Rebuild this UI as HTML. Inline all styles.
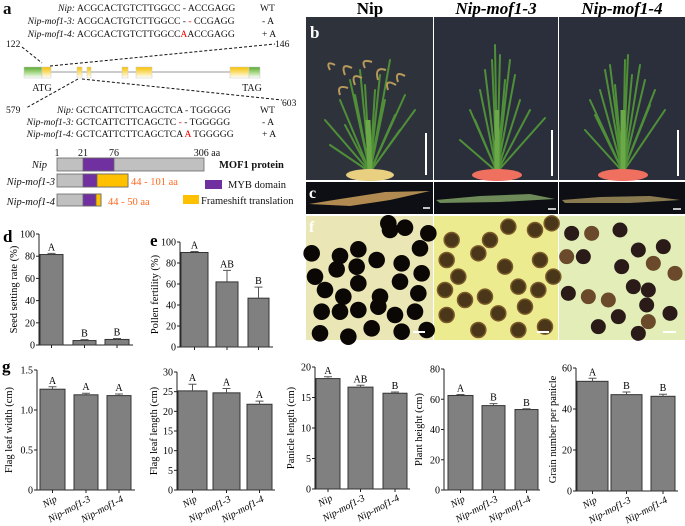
<!DOCTYPE html>
<html><head><meta charset="utf-8"><style>
html,body{margin:0;padding:0;background:#fff;}
svg{display:block;font-family:"Liberation Serif",serif;}
</style></head><body>
<svg id="fig" width="685" height="526" viewBox="0 0 685 526">
<g font-size="9.6" fill="#111">
<text x="3" y="14" font-size="17" font-weight="bold">a</text>
<text x="75" y="11" text-anchor="end" font-style="italic">Nip:</text>
<text x="77" y="11">ACGCACTGTCTTGGCC - ACCGAGG</text>
<text x="260" y="11">WT</text>
<text x="75" y="24" text-anchor="end" font-style="italic">Nip-mof1-3:</text>
<text x="77" y="24">ACGCACTGTCTTGGCC - <tspan fill="#e00">-</tspan> CCGAGG</text>
<text x="262" y="24">- A</text>
<text x="75" y="37" text-anchor="end" font-style="italic">Nip-mof1-4:</text>
<text x="77" y="37">ACGCACTGTCTTGGCC<tspan fill="#e00">A</tspan>ACCGAGG</text>
<text x="262" y="37">+ A</text>
<text x="6" y="47">122</text>
<text x="275" y="47">146</text>
<g stroke="#111" stroke-dasharray="3,2" fill="none" stroke-width="1">
<line x1="22" y1="47" x2="42" y2="63"/><line x1="50" y1="66" x2="275" y2="44"/>
<line x1="78" y1="79" x2="26" y2="108"/><line x1="82" y1="79" x2="282" y2="100"/>
</g>
<defs>
<linearGradient id="yg" x1="0" y1="0" x2="0" y2="1"><stop offset="0" stop-color="#f5c000"/><stop offset="0.5" stop-color="#fbe07a"/><stop offset="1" stop-color="#fff"/></linearGradient>
<linearGradient id="gg" x1="0" y1="0" x2="0" y2="1"><stop offset="0" stop-color="#5aa832"/><stop offset="0.5" stop-color="#a8d888"/><stop offset="1" stop-color="#fff"/></linearGradient>
</defs>
<line x1="24" y1="72" x2="260" y2="72" stroke="#bbb" stroke-width="1.5"/>
<g stroke="#ccc" stroke-width="0.5">
<rect x="24" y="67" width="18" height="11" fill="url(#gg)"/>
<rect x="42" y="67" width="9" height="11" fill="url(#yg)"/>
<rect x="77" y="67" width="5" height="11" fill="url(#yg)"/>
<rect x="87" y="67" width="4" height="11" fill="url(#yg)"/>
<rect x="122" y="67" width="6" height="11" fill="url(#yg)"/>
<rect x="136" y="67" width="16" height="11" fill="url(#yg)"/>
<rect x="230" y="67" width="19" height="11" fill="url(#yg)"/>
<rect x="249" y="67" width="11" height="11" fill="url(#gg)"/>
</g>
<text x="42" y="91" text-anchor="middle" font-size="10">ATG</text>
<text x="252" y="91" text-anchor="middle" font-size="10">TAG</text>
<text x="6" y="113">579</text>
<text x="282" y="106">603</text>
<text x="74" y="113" text-anchor="end" font-style="italic">Nip:</text>
<text x="76" y="113">GCTCATTCTTCAGCTCA - TGGGGG</text>
<text x="260" y="113">WT</text>
<text x="74" y="125" text-anchor="end" font-style="italic">Nip-mof1-3:</text>
<text x="76" y="125">GCTCATTCTTCAGCTC<tspan fill="#e00"> -</tspan> - TGGGGG</text>
<text x="262" y="125">- A</text>
<text x="74" y="137" text-anchor="end" font-style="italic">Nip-mof1-4:</text>
<text x="76" y="137">GCTCATTCTTCAGCTCA <tspan fill="#e00">A</tspan> TGGGGG</text>
<text x="262" y="137">+ A</text>
<g font-size="10">
<text x="57" y="156" text-anchor="middle">1</text><text x="83" y="156" text-anchor="middle">21</text>
<text x="114" y="156" text-anchor="middle">76</text><text x="207" y="156" text-anchor="middle">306 aa</text>
</g>
<g stroke="#666" stroke-width="0.8">
<rect x="57" y="158" width="147" height="13" fill="#c0c0c0"/><rect x="83" y="158" width="31" height="13" fill="#7030a0"/>
<rect x="57" y="174" width="71" height="13" fill="#c0c0c0"/><rect x="83" y="174" width="14" height="13" fill="#7030a0"/><rect x="97" y="174" width="31" height="13" fill="#ffc000"/>
<rect x="57" y="194" width="44" height="12" fill="#c0c0c0"/><rect x="83" y="194" width="13" height="12" fill="#7030a0"/><rect x="96" y="194" width="5" height="12" fill="#ffc000"/>
</g>
<g font-size="10.5" font-style="italic">
<text x="47" y="168" text-anchor="end">Nip</text>
<text x="55" y="185" text-anchor="end">Nip-mof1-3</text>
<text x="55" y="205" text-anchor="end">Nip-mof1-4</text>
</g>
<text x="219" y="168" font-size="10.5" font-weight="bold">MOF1 protein</text>
<text x="131" y="185" font-size="10.5" fill="#ff6a20">44 - 101  aa</text>
<text x="108" y="205" font-size="10.5" fill="#ff6a20">44 - 50 aa</text>
<rect x="205" y="180" width="17" height="9" fill="#7030a0"/>
<text x="228" y="188" font-size="10.5">MYB domain</text>
<rect x="183" y="195" width="16" height="9" fill="#ffc000"/>
<text x="201" y="204" font-size="10.5">Frameshift translation</text>
</g>

<g>
<g font-size="17" font-weight="bold" text-anchor="middle">
<text x="370" y="14">Nip</text>
<text x="496" y="14" font-style="italic">Nip-mof1-3</text>
<text x="622" y="14" font-style="italic">Nip-mof1-4</text>
</g>
<rect x="306" y="17" width="127" height="163" fill="#2e323b"/>
<rect x="434" y="17" width="124" height="163" fill="#2a2f3b"/>
<rect x="559" y="17" width="126" height="163" fill="#2a2f3b"/>
<g stroke="#4f8f38" stroke-width="2" fill="none" stroke-linecap="round">
<path d="M370 172 L350 80 M370 172 L340 100 M370 172 L325 120 M370 172 L390 60 M370 172 L405 95 M370 172 L415 110 M370 172 L360 70 M370 172 L380 75 M370 172 L330 145 M370 172 L400 130 M370 172 L355 95 M370 172 L385 100 M370 172 L365 85 M370 172 L375 90 M370 172 L345 125 M370 172 L395 115"/>
<path d="M497 172 L485 70 M497 172 L495 45 M497 172 L510 60 M497 172 L470 110 M497 172 L530 110 M497 172 L460 140 M497 172 L545 118 M497 172 L505 80 M497 172 L488 95 M497 172 L480 90 M497 172 L515 75 M497 172 L492 60 M497 172 L500 55 M497 172 L475 120 M497 172 L520 100"/>
<path d="M623 172 L605 70 M623 172 L625 60 M623 172 L640 65 M623 172 L590 100 M623 172 L655 90 M623 172 L585 130 M623 172 L665 110 M623 172 L615 85 M623 172 L632 75 M623 172 L610 65 M623 172 L645 80 M623 172 L600 90 M623 172 L628 55 M623 172 L650 105 M623 172 L595 115"/>
</g>
<g stroke="#6aa848" stroke-width="5" fill="none">
<path d="M370 172 L368 120 M497 172 L497 110 M623 172 L623 110"/>
</g>
<g stroke="#b89a5a" stroke-width="2" fill="none">
<path d="M330 70 Q325 60 335 65 M345 75 Q340 62 352 68 M365 68 Q360 58 372 62 M378 80 Q374 66 386 70 M388 90 Q384 78 396 85 M340 95 Q336 84 348 88 M355 85 Q350 72 362 78 M398 82 Q394 70 405 76"/>
</g>
<ellipse cx="370" cy="175" rx="24" ry="6" fill="#e8d080"/>
<ellipse cx="497" cy="175" rx="25" ry="6" fill="#f07060"/>
<ellipse cx="623" cy="175" rx="25" ry="6" fill="#f07060"/>
<g stroke="#fff" stroke-width="2">
<line x1="426" y1="133" x2="426" y2="175"/><line x1="552" y1="130" x2="552" y2="176"/><line x1="678" y1="130" x2="678" y2="176"/>
</g>
<text x="310" y="38" font-size="17" font-weight="bold" fill="#fff">b</text>
<rect x="306" y="182" width="127" height="32" fill="#0d0f14"/>
<rect x="434" y="182" width="124" height="32" fill="#0d0f14"/>
<rect x="559" y="182" width="126" height="32" fill="#0d0f14"/>
<path d="M309 204 L340 199 L385 192 L430 191 L390 200 L350 206 Z" fill="#b08a50"/>
<path d="M436 200 L480 196 L530 194 L555 199 L500 202 L440 203 Z" fill="#6d8a58"/>
<path d="M562 200 L600 197 L650 196 L680 200 L630 203 L565 203 Z" fill="#8a7a50"/>
<g stroke="#fff" stroke-width="1.5"><line x1="423" y1="208" x2="430" y2="208"/><line x1="548" y1="209" x2="556" y2="209"/><line x1="673" y1="209" x2="681" y2="209"/></g>
<text x="309" y="198" font-size="16" font-weight="bold" fill="#fff">c</text>
<rect x="306" y="216" width="127" height="124" fill="#ebe6b5"/>
<rect x="434" y="216" width="124" height="124" fill="#eceb90"/>
<rect x="559" y="216" width="126" height="124" fill="#e2edb8"/>
<g id="pollen"></g>
<g stroke="#fff" stroke-width="2"><line x1="413" y1="332" x2="425" y2="332"/><line x1="537" y1="332" x2="549" y2="332"/><line x1="663" y1="332" x2="676" y2="332"/></g>
<text x="309" y="232" font-size="16" font-weight="bold" fill="#fff">f</text>
</g>

<g font-size="17" font-weight="bold">
<text x="3" y="242">d</text>
<text x="150" y="246">e</text>
<text x="2" y="372">g</text>
</g>
<g id="charts"></g>
</svg>
<script>
var categories = ["Nip", "Nip-mof1-3", "Nip-mof1-4"];
var seedValues = [81.5, 4, 5];
var seedErrors = [1, 0.8, 0.8];
var seedLetters = ["A", "B", "B"];
var seedTicks = [0, 20, 40, 60, 80, 100];
var pollenValues = [90, 62, 46.5];
var pollenErrors = [1, 11, 10.5];
var pollenLetters = ["A", "AB", "B"];
var pollenTicks = [0, 20, 40, 60, 80, 100];
var widthValues = [1.26, 1.19, 1.18];
var widthErrors = [0.03, 0.02, 0.02];
var widthLetters = ["A", "A", "A"];
var widthTicks = [0, 0.5, 1.0, 1.5];
var widthTickLabels = ["0", "0.5", "1.0", "1.5"];
var lengthValues = [25.2, 24.7, 21.8];
var lengthErrors = [1.7, 1.1, 0.8];
var lengthLetters = ["A", "A", "A"];
var lengthTicks = [0, 5, 10, 15, 20, 25, 30];
var panicleValues = [18.1, 16.7, 15.7];
var panicleErrors = [0.3, 0.3, 0.2];
var panicleLetters = ["A", "AB", "B"];
var panicleTicks = [0, 5, 10, 15, 20];
var heightValues = [62.5, 55.8, 53.2];
var heightErrors = [0.6, 1.3, 0.5];
var heightLetters = ["A", "B", "B"];
var heightTicks = [0, 20, 40, 60, 80];
var grainValues = [53.5, 47, 46.2];
var grainErrors = [1.5, 1.3, 1];
var grainLetters = ["A", "B", "B"];
var grainTicks = [0, 20, 40, 60];

var NS = "http://www.w3.org/2000/svg";
function mk(tag, attrs, parent) {
  var e = document.createElementNS(NS, tag);
  for (var k in attrs) e.setAttribute(k, attrs[k]);
  parent.appendChild(e);
  return e;
}
function drawChart(name, title, values, errors, letters, ticks, tickLabels, layout, showX) {
  var root = document.getElementById("charts");
  var g = mk("g", {}, root);
  
  
  var yMax = ticks[ticks.length - 1];
  function y(v) { return layout.y0 - (v / yMax) * (layout.y0 - layout.yTop); }
  var ax = mk("path", {d: "M" + layout.ax + " " + layout.yTop + " L" + layout.ax + " " + layout.y0 + " L" + layout.xEnd + " " + layout.y0, stroke: "#222", fill: "none", "stroke-width": 1}, g);
  
  
  ticks.forEach(function (t, i) {
    mk("line", {x1: layout.ax - 3, x2: layout.ax, y1: y(t), y2: y(t), stroke: "#222"}, g);
    var tl = mk("text", {x: layout.ax - 4, y: y(t) + 3.5, "text-anchor": "end", "font-size": 10}, g);
    tl.textContent = tickLabels ? tickLabels[i] : String(t);
    
    
  });
  var yt = mk("text", {x: 0, y: 0, "text-anchor": "middle", "font-size": 10.5, transform: "translate(" + layout.titleX + "," + ((layout.yTop + layout.y0) / 2) + ") rotate(-90)"}, g);
  yt.textContent = title;
  
  
  values.forEach(function (v, i) {
    var x1 = layout.bars[i][0], x2 = layout.bars[i][1], cx = (x1 + x2) / 2;
    var b = mk("rect", {x: x1, y: y(v), width: x2 - x1, height: layout.y0 - y(v), fill: "#808080", stroke: "#333", "stroke-width": 1}, g);
    
    
    var ye = y(v + errors[i]);
    var eb = mk("path", {d: "M" + cx + " " + y(v) + " L" + cx + " " + ye + " M" + (cx - 4) + " " + ye + " L" + (cx + 4) + " " + ye, stroke: "#555", fill: "none"}, g);
    
    
    var lt = mk("text", {x: cx, y: ye - 3, "text-anchor": "middle", "font-size": 10}, g);
    lt.textContent = letters[i];
    
    
    mk("line", {x1: cx, x2: cx, y1: layout.y0, y2: layout.y0 + 3, stroke: "#222"}, g);
    if (showX) {
      var xl = mk("text", {x: 0, y: 0, "text-anchor": "end", "font-size": 10, "font-style": "italic", transform: "translate(" + (cx + 5) + "," + (layout.y0 + 11) + ") rotate(-28)"}, g);
      xl.textContent = categories[i];
      
      
    }
  });
}
drawChart("chart-seed-setting", "Seed setting rate (%)", seedValues, seedErrors, seedLetters, seedTicks, null,
  {ax: 39, xEnd: 133, yTop: 234, y0: 345, titleX: 17, bars: [[40, 63], [73, 96], [105, 129]]}, false);
drawChart("chart-pollen-fertility", "Pollen fertility (%)", pollenValues, pollenErrors, pollenLetters, pollenTicks, null,
  {ax: 180, xEnd: 273, yTop: 242, y0: 347, titleX: 158, bars: [[181, 208], [216, 238], [248, 269]]}, false);
drawChart("chart-flag-leaf-width", "Flag leaf width (cm)", widthValues, widthErrors, widthLetters, widthTicks, widthTickLabels,
  {ax: 37, xEnd: 135, yTop: 370, y0: 490, titleX: 12, bars: [[40, 65], [74, 98], [107, 131]]}, true);
drawChart("chart-flag-leaf-length", "Flag leaf length (cm)", lengthValues, lengthErrors, lengthLetters, lengthTicks, null,
  {ax: 177, xEnd: 275, yTop: 372, y0: 490, titleX: 157, bars: [[178, 207], [213, 240], [247, 272]]}, true);
drawChart("chart-panicle-length", "Panicle length (cm)", panicleValues, panicleErrors, panicleLetters, panicleTicks, null,
  {ax: 315, xEnd: 410, yTop: 367, y0: 489, titleX: 294, bars: [[316, 340], [348, 373], [383, 407]]}, true);
drawChart("chart-plant-height", "Plant height (cm)", heightValues, heightErrors, heightLetters, heightTicks, null,
  {ax: 444, xEnd: 540, yTop: 369, y0: 490, titleX: 422, bars: [[448, 473], [482, 505], [515, 538]]}, true);
drawChart("chart-grain-number", "Grain number per panicle", grainValues, grainErrors, grainLetters, grainTicks, null,
  {ax: 576, xEnd: 678, yTop: 368, y0: 491, titleX: 556, bars: [[577, 608], [611, 642], [651, 675]]}, true);

var pg = document.getElementById("pollen");
var p1 = [[250,670],[300,683],[345,745],[255,690],[105,768],[160,748],[95,808],[155,800],[215,780],[290,790],[160,850],[225,890],[285,845],[340,880],[60,870],[115,890],[50,935],[105,935],[160,930],[220,920],[270,945],[330,935],[45,1000],[130,1010],[200,985],[290,995],[365,990],[20,760],[370,700],[30,830],[350,820]];
var p2 = [[440,720],[555,720],[610,680],[690,690],[740,670],[425,780],[520,760],[600,800],[705,780],[460,830],[640,860],[540,890],[700,870],[425,945],[580,940],[660,920],[745,830],[520,990],[480,900],[640,990],[720,980],[420,870]];
var p3 = [[860,700],[945,690],[1075,740],[785,770],[835,770],[1000,750],[1045,790],[950,800],[790,880],[850,890],[985,860],[1030,870],[910,900],[1025,915],[940,950],[1030,965],[1095,940],[800,700],[1110,820],[880,980],[1000,1000]];
p1.forEach(function (p) { var c = mk("circle", {cx: p[0] / 3 + 305, cy: p[1] / 3, r: 8.3, fill: "#0a0705"}, pg);   });
p2.forEach(function (p) { var c = mk("circle", {cx: p[0] / 3 + 305, cy: p[1] / 3, r: 7.5, fill: "#4a3618", stroke: "#7a5a28", "stroke-width": 1.5}, pg);   });
p3.forEach(function (p, i) { var c = mk("circle", {cx: p[0] / 3 + 305, cy: p[1] / 3, r: 7.5, fill: i % 3 === 0 ? "#6a4a2a" : "#2a1a18"}, pg);   });
</script>
</body></html>
